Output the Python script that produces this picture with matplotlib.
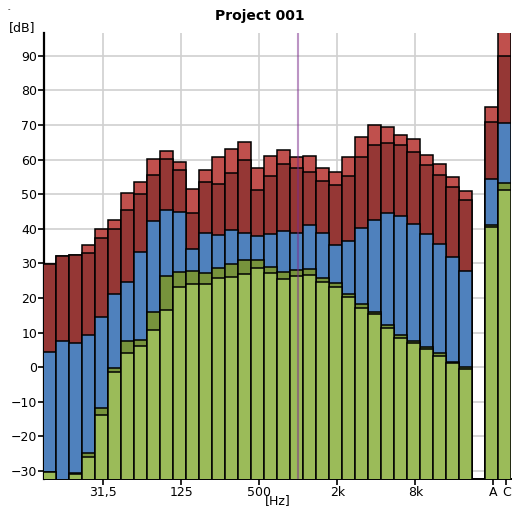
import numpy as np
import matplotlib
matplotlib.use('Agg')
import matplotlib.pyplot as plt

# 1/3-octave bands plus the A and C totals
bands = ['12.5', '16', '20', '25', '31,5', '40', '50', '63', '80', '100',
         '125', '160', '200', '250', '315', '400', '500', '630', '800', '1k',
         '1.25k', '1.6k', '2k', '2.5k', '3.15k', '4k', '5k', '6.3k', '8k',
         '10k', '12.5k', '16k', '20k', 'A', 'C']

# levels in dB, one list per layer (highest layer first)
light_red = [29.9, 32.2, 32.5, 35.3, 40.0, 42.6, 50.3, 53.5, 60.1, 62.4,
             59.3, 51.4, 56.9, 60.8, 63.1, 65.0, 57.6, 61.1, 62.8, 60.9,
             61.0, 57.7, 56.4, 60.7, 66.5, 70.0, 69.5, 67.2, 66.0, 61.4,
             58.7, 55.0, 50.8, 75.2, 100.0]
dark_red = [29.8, 32.1, 32.4, 33.0, 37.4, 40.0, 45.4, 50.0, 55.5, 60.3,
            56.9, 44.5, 53.6, 53.0, 56.1, 59.8, 51.2, 55.3, 58.8, 57.7,
            56.4, 53.8, 52.6, 55.3, 60.9, 64.2, 64.7, 64.2, 62.1, 58.5,
            55.6, 52.0, 48.3, 70.9, 90.0]
blue = [4.5, 7.5, 6.9, 9.2, 14.5, 21.3, 24.6, 33.2, 42.3, 45.4,
        44.8, 34.2, 38.9, 38.1, 39.7, 38.7, 37.9, 38.4, 39.5, 38.7,
        41.0, 38.9, 35.3, 36.4, 40.1, 42.6, 44.5, 43.7, 41.3, 38.4,
        35.6, 32.0, 27.7, 54.5, 70.5]
dark_green = [-30.2, -35.0, -30.5, -24.8, -11.9, -0.1, 7.5, 7.9, 16.1, 26.4,
              27.6, 27.7, 27.2, 28.6, 29.8, 30.9, 31.1, 29.0, 27.5, 28.1,
              28.3, 25.7, 24.4, 21.3, 18.2, 16.1, 12.3, 9.3, 7.5, 5.9,
              4.0, 1.5, 0.0, 41.2, 53.2]
light_green = [-30.3, -35.0, -30.8, -26.0, -13.9, -1.4, 4.0, 6.1, 10.7, 16.6,
               23.1, 24.1, 24.1, 25.7, 26.1, 26.9, 28.6, 27.2, 25.6, 26.5,
               26.8, 24.6, 23.2, 20.2, 17.1, 15.3, 11.2, 8.4, 6.9, 5.3,
               3.3, 1.2, -0.5, 40.5, 51.2]

tick_labels = ['31,5', '125', '500', '2k', '8k', 'A', 'C']

# positions: 33 bands, one empty slot, then A and C
x = np.array(list(range(33)) + [34, 35])
base = -40

fig = plt.figure(figsize=(5.13, 5.07), dpi=100)
ax = fig.add_axes([44.3 / 513, 1 - 479 / 507, (511 - 44.3) / 513, (479 - 33) / 507])

layers = [(light_red, '#c0504d'), (dark_red, '#953735'), (blue, '#4f81bd'),
          (dark_green, '#77933c'), (light_green, '#9bbb59')]
for i, (vals, col) in enumerate(layers):
    h = np.array(vals) - base
    ax.bar(x, h, bottom=base, width=1.0, color=col, edgecolor='black',
           linewidth=1.1, zorder=2 + i)

ax.set_xlim(-0.38, 35.5)
ax.set_ylim(-32.3, 96.6)

# ticks
tick_pos = [x[bands.index(b)] + 0.15 for b in tick_labels]
ax.set_xticks(tick_pos)
ax.set_xticklabels(tick_labels)
ax.set_yticks(np.arange(-30, 91, 10))

ax.set_axisbelow(True)
ax.grid(True, color='#d0d0d0', linewidth=1.2)
for t in ax.xaxis.get_gridlines()[-2:]:
    t.set_visible(False)

# 1 kHz marker
ax.axvline(x[bands.index('1k')] + 0.15, color='#7a2a8a', alpha=0.5,
           linewidth=1.5, zorder=10)

for s in ['top', 'right']:
    ax.spines[s].set_visible(False)
ax.spines['left'].set_linewidth(1.6)
ax.spines['bottom'].set_linewidth(1.4)
ax.tick_params(axis='both', labelsize=9, length=4, width=1.2, pad=1,
               colors='black')

fig.text(260 / 513, 1 - 16 / 507, 'Project 001', ha='center', va='center',
         fontsize=10, fontweight='bold')
fig.text(22 / 513, 1 - 27.5 / 507, '[dB]', ha='center', va='center', fontsize=9)
fig.text(278 / 513, 1 - 501 / 507, '[Hz]', ha='center', va='center', fontsize=9)
fig.text(9 / 513, 1 - 9 / 507, '-', ha='center', va='center', fontsize=5)

fig.savefig('out.png', dpi=100)
